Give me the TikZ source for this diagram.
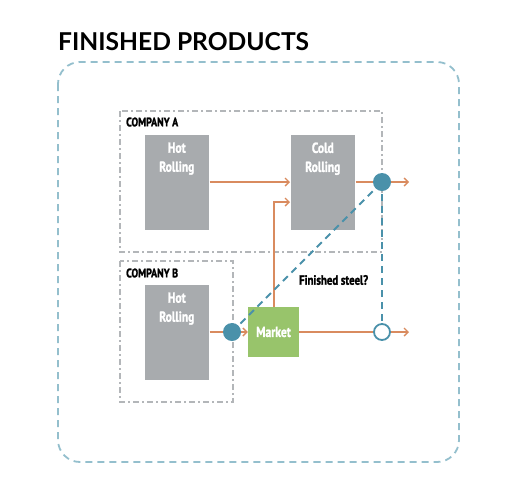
\documentclass[tikz,border=0pt]{standalone}
\usepackage{fontspec}
\setmainfont{Lato}
\newfontfamily\condfont[FakeStretch=0.8, FakeBold=1.6]{PT Sans Bold}
\usetikzlibrary{arrows.meta}
\pgfdeclarelayer{front}
\pgfsetlayers{main,front}
\definecolor{boxgray}{HTML}{A8ABAE}
\definecolor{flow}{HTML}{D98B5F}
\definecolor{dotblue}{HTML}{4A91AA}
\definecolor{frameblue}{HTML}{94BFCD}
\definecolor{compgray}{HTML}{B3B6B9}
\definecolor{mktgreen}{HTML}{98C46B}
\tikzset{
  procbox/.style={fill=boxgray, draw=white, line width=0.6pt, minimum width=65pt, minimum height=96pt, anchor=north west, inner sep=0pt},
  boxtext/.style={text=white, font=\condfont\fontsize{14.5}{19}\selectfont, align=center},
  flowline/.style={draw=flow, line width=1.6pt},
  flowarrow/.style={flowline, -{Straight Barb[length=4pt,width=8pt,line width=1.4pt]}},
  compframe/.style={draw=compgray, line width=2pt, dash pattern=on 6pt off 3pt on 2pt off 3pt},
  complabel/.style={font=\condfont\fontsize{12.5}{14}\selectfont, anchor=west, inner sep=0pt},
  bluedash/.style={draw=dotblue, line width=1.8pt, dash pattern=on 7pt off 5pt},
  dotnode/.style={circle, fill=dotblue, minimum size=18pt, inner sep=0pt},
  opendot/.style={circle, fill=white, draw=dotblue, line width=1.8pt, minimum size=16pt, inner sep=0pt}
}
\begin{document}
\begin{tikzpicture}[x=1pt,y=-1pt]
\useasboundingbox (0,0) rectangle (510,499);
% title
\node[anchor=base west, inner sep=0pt, font=\bfseries\fontsize{24.6}{30}\selectfont] (title) at (58,50) {FINISHED PRODUCTS};
% outer frame
\draw[draw=frameblue, line width=1.8pt, dash pattern=on 7pt off 5pt, rounded corners=22pt] (58,62) rectangle (459,462);
% company frames
\draw[compframe] (120,111) rectangle (382,252);
\node[complabel] (compA) at (126,122) {COMPANY A};
\draw[compframe] (120,261) rectangle (233,402);
\node[complabel] (compB) at (126,273) {COMPANY B};
% boxes
\node[procbox] (hotA) at (144,134) {};
\node[boxtext, anchor=north] (hotAt) at (hotA.north) [yshift=-5pt] {Hot\\Rolling};
\node[procbox] (cold) at (290,134) {};
\node[boxtext, anchor=north] (coldt) at (cold.north) [yshift=-5pt] {Cold\\Rolling};
\node[procbox] (hotB) at (144,284) {};
\node[boxtext, anchor=north] (hotBt) at (hotB.north) [yshift=-5pt] {Hot\\Rolling};
\node[fill=mktgreen, minimum width=51pt, minimum height=50pt, inner sep=0pt, text=white, font=\condfont\fontsize{14.5}{16}\selectfont] (market) at (273.5,332) {Market};
% junction dots (front layer)
\begin{pgfonlayer}{front}
\node[dotnode] (dotA) at (382,182) {};
\node[dotnode] (dotB) at (232,332) {};
\node[opendot] (openC) at (382,332) {};
\end{pgfonlayer}
\coordinate (endA) at (409,182);
\coordinate (endB) at (409,332);
\coordinate (turn) at (274,202);
% flows
\draw[flowarrow] (hotA.east |- dotA) -- (cold.west |- dotA);
\draw[flowarrow] (cold.east |- dotA) -- (endA);
\draw[flowarrow] (hotB.east |- dotB) -- (market.west);
\draw[flowarrow] (market.east) -- (endB);
\draw[flowarrow] (market.north -| turn) -- (turn) -- (cold.west |- turn);
% blue dashed
\draw[bluedash] (dotB.center) -- (dotA.center);
\draw[bluedash] (dotA.center) -- (openC.center);
\node[font=\condfont\fontsize{13.5}{15}\selectfont, anchor=west, inner sep=0pt] (fs) at (299,280) {Finished steel?};
\end{tikzpicture}
\end{document}
